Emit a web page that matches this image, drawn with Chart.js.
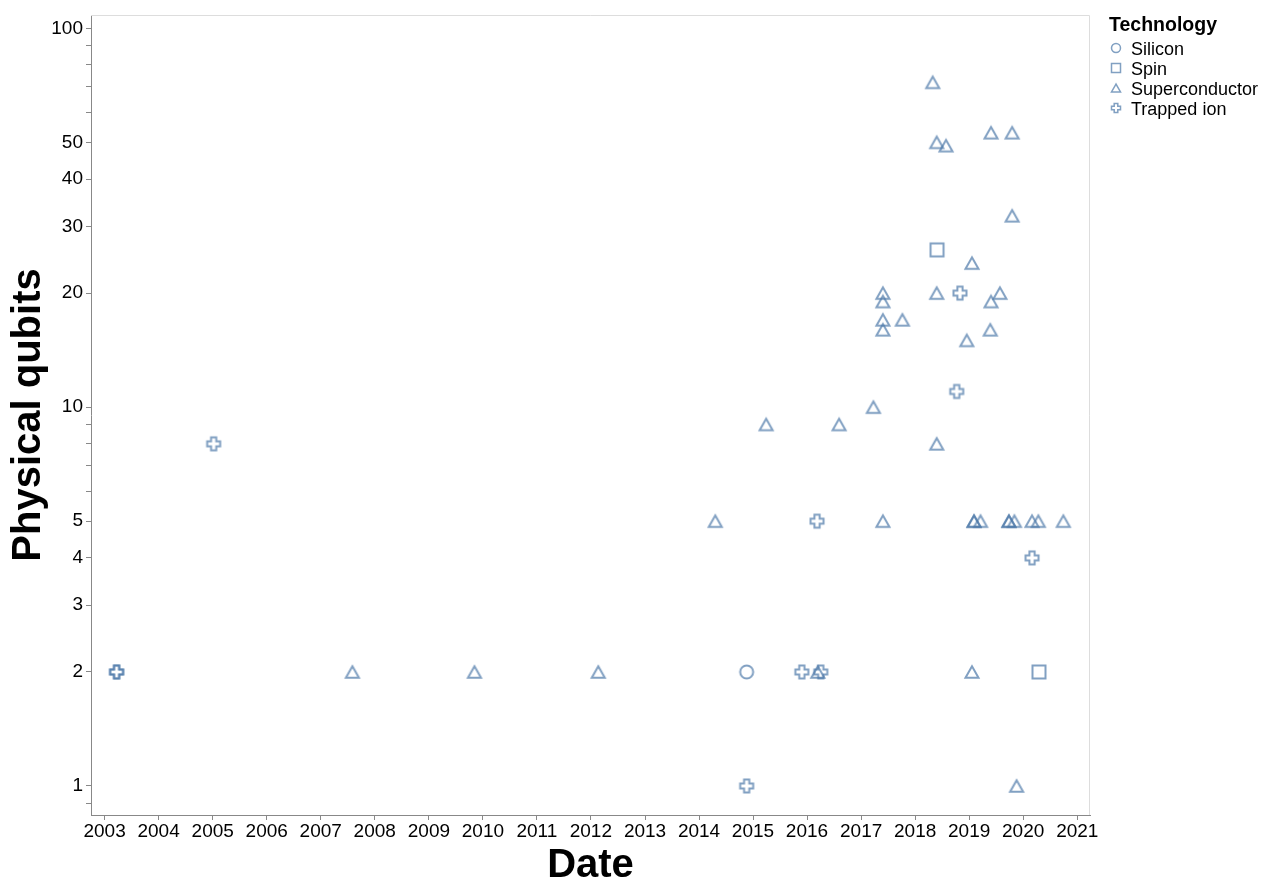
<!DOCTYPE html>
<html><head><meta charset="utf-8">
<script src="https://cdn.jsdelivr.net/npm/chart.js@4.4.1/dist/chart.umd.min.js"></script>
<style>
html,body{margin:0;padding:0;background:#fff;}
#wrap{position:relative;width:1263px;height:891px;overflow:hidden;}
#c{position:absolute;left:0;top:0;}
.lg{position:absolute;font-family:"Liberation Sans",Arial,sans-serif;color:#000;white-space:nowrap;}
.lg svg{position:absolute;}
</style></head><body>
<div id="wrap"><canvas id="c" width="1263" height="891"></canvas><div id="legend"></div></div>
<script>
// ---------------- data ----------------
const technologies = ['Silicon', 'Spin', 'Superconductor', 'Trapped ion'];

const siliconDates  = ['2014-11-19'];
const siliconQubits = [2];

const spinDates  = ['2018-05-29', '2020-04-17'];
const spinQubits = [26, 2];

const superconductorDates = [
  '2007-08-03', '2009-11-05', '2012-02-20', '2014-04-21', '2015-03-31', '2016-03-14',
  '2016-08-05', '2017-03-25', '2017-05-28', '2017-05-28', '2017-05-28', '2017-05-28',
  '2017-05-28', '2017-10-07', '2018-04-30', '2018-05-27', '2018-05-27', '2018-05-27',
  '2018-07-29', '2018-12-16', '2019-01-20', '2019-01-20', '2019-02-03', '2019-02-03',
  '2019-03-19', '2019-05-29', '2019-05-29', '2019-05-24', '2019-07-28', '2019-09-27',
  '2019-09-27', '2019-10-19', '2019-10-19', '2019-11-03', '2019-11-18', '2020-03-01',
  '2020-04-13', '2020-09-29'
];
const superconductorQubits = [
  2, 2, 2, 5, 9, 2,
  9, 10, 20, 19, 17, 16,
  5, 17, 72, 50, 20, 8,
  49, 15, 24, 2, 5, 5,
  5, 53, 19, 16, 20, 5,
  5, 53, 32, 5, 1, 5,
  5, 5
];

const trappedIonDates = [
  '2003-03-23', '2003-03-23', '2005-01-07', '2014-11-19', '2015-11-27',
  '2016-03-09', '2016-04-03', '2018-10-09', '2018-10-31', '2020-03-01'
];
const trappedIonQubits = [2, 2, 8, 1, 2, 5, 2, 11, 20, 4];

const xTickYears = [2003, 2004, 2005, 2006, 2007, 2008, 2009, 2010, 2011, 2012,
                    2013, 2014, 2015, 2016, 2017, 2018, 2019, 2020, 2021];
const yTickValues = [0.9, 1, 2, 3, 4, 5, 6, 7, 8, 9, 10, 20, 30, 40, 50, 60, 70, 80, 90, 100];
const yTickLabels = ['', '1', '2', '3', '4', '5', '', '', '', '', '10', '20', '30', '40', '50', '', '', '', '', '100'];

const xDomain = ['2002-10-01', '2021-03-28'];
const yDomain = [0.8384, 108.4];

// ---------------- helpers ----------------
const MARK = 'rgba(76,120,168,0.7)';
const FONT = '"Liberation Sans", Arial, sans-serif';

function tracePath(g, shape, size) {
  const r = Math.sqrt(size) / 2;
  g.beginPath();
  if (shape === 'circle') {
    g.arc(0, 0, r, 0, Math.PI * 2);
  } else if (shape === 'square') {
    g.rect(-r, -r, 2 * r, 2 * r);
  } else if (shape === 'triangle') {
    const h = Math.sqrt(3) * r / 2;
    g.moveTo(0, -h); g.lineTo(-r, h); g.lineTo(r, h); g.closePath();
  } else if (shape === 'cross') {
    const s = r / 2.5;
    g.moveTo(-r, -s); g.lineTo(-r, s); g.lineTo(-s, s); g.lineTo(-s, r);
    g.lineTo(s, r); g.lineTo(s, s); g.lineTo(r, s); g.lineTo(r, -s);
    g.lineTo(s, -s); g.lineTo(s, -r); g.lineTo(-s, -r); g.lineTo(-s, -s);
    g.closePath();
  }
}
function makeSymbol(shape, size, lw) {
  const c = document.createElement('canvas');
  c.width = 24; c.height = 24;
  const g = c.getContext('2d');
  g.translate(12, 12);
  tracePath(g, shape, size);
  g.strokeStyle = MARK; g.lineWidth = lw; g.lineJoin = 'miter';
  g.stroke();
  return c;
}
const toPoints = (dates, vals) => dates.map((d, i) => ({ x: Date.parse(d), y: vals[i] }));

const shapes = ['circle', 'square', 'triangle', 'cross'];
const seriesDates = [siliconDates, spinDates, superconductorDates, trappedIonDates];
const seriesVals = [siliconQubits, spinQubits, superconductorQubits, trappedIonQubits];

const datasets = technologies.map((t, k) => ({
  label: t,
  data: toPoints(seriesDates[k], seriesVals[k]),
  pointStyle: makeSymbol(shapes[k], 169, 2),
  pointRadius: 7,
  pointHoverRadius: 7,
  showLine: false,
  borderColor: MARK,
  backgroundColor: 'rgba(0,0,0,0)'
}));

// frame plugin (light view border on top/right)
const framePlugin = {
  id: 'frame',
  beforeDatasetsDraw(chart) {
    const { ctx, chartArea: a } = chart;
    ctx.save();
    ctx.strokeStyle = '#ddd';
    ctx.lineWidth = 1;
    ctx.beginPath();
    ctx.moveTo(a.left, a.top + 0.5); ctx.lineTo(a.right - 0.5, a.top + 0.5);
    ctx.lineTo(a.right - 0.5, a.bottom);
    ctx.stroke();
    ctx.restore();
  }
};

new Chart(document.getElementById('c'), {
  type: 'scatter',
  data: { datasets },
  options: {
    responsive: false,
    animation: false,
    events: [],
    layout: { padding: { left: 0, top: 15, right: 173, bottom: 0 } },
    plugins: { legend: { display: false }, tooltip: { enabled: false } },
    scales: {
      x: {
        type: 'linear',
        min: Date.parse(xDomain[0]),
        max: Date.parse(xDomain[1]),
        afterBuildTicks(scale) { scale.ticks = xTickYears.map(y => ({ value: Date.UTC(y, 0, 1) })); },
        afterFit(scale) { scale.height = 76; },
        ticks: {
          autoSkip: false, maxRotation: 0, minRotation: 0, padding: 2,
          color: '#000', font: { family: FONT, size: 19, lineHeight: 1 },
          callback(v, i) { return String(xTickYears[i]); }
        },
        grid: { drawOnChartArea: false, drawTicks: true, tickLength: 5, color: '#888', lineWidth: 1 },
        border: { display: true, color: '#888', width: 1 },
        title: {
          display: true, text: 'Date', color: '#000',
          font: { family: FONT, size: 40, weight: 'bold', lineHeight: 1 },
          padding: { top: 0, bottom: 5 }
        }
      },
      y: {
        type: 'logarithmic',
        min: yDomain[0],
        max: yDomain[1],
        afterBuildTicks(scale) { scale.ticks = yTickValues.map(v => ({ value: v })); },
        afterFit(scale) { scale.width = 91; },
        ticks: {
          autoSkip: false, padding: 3,
          color: '#000', font: { family: FONT, size: 19, lineHeight: 1 },
          callback(v, i) { return yTickLabels[i]; }
        },
        grid: { drawOnChartArea: false, drawTicks: true, tickLength: 5, color: '#888', lineWidth: 1 },
        border: { display: true, color: '#888', width: 1 },
        title: {
          display: true, text: 'Physical qubits', color: '#000',
          font: { family: FONT, size: 40, weight: 'bold', lineHeight: 1 },
          padding: { top: 8.5, bottom: 0 }
        }
      }
    }
  },
  plugins: [framePlugin]
});

// ---------------- legend (HTML) ----------------
(function () {
  const lg = document.getElementById('legend');
  const title = document.createElement('div');
  title.className = 'lg';
  title.style.cssText = 'left:1109px;top:12.5px;font-size:19.5px;line-height:22px;font-weight:bold;';
  title.textContent = 'Technology';
  lg.appendChild(title);
  technologies.forEach((t, k) => {
    const cy = 48.3 + 20 * k;
    const svgNS = 'http://www.w3.org/2000/svg';
    const svg = document.createElementNS(svgNS, 'svg');
    svg.setAttribute('width', '16'); svg.setAttribute('height', '16');
    svg.style.cssText = 'position:absolute;left:' + (1115.5 - 8) + 'px;top:' + (cy - 8) + 'px;';
    const r = 4.5;
    let el;
    if (shapes[k] === 'circle') {
      el = document.createElementNS(svgNS, 'circle');
      el.setAttribute('cx', 8); el.setAttribute('cy', 8); el.setAttribute('r', r);
    } else {
      el = document.createElementNS(svgNS, 'path');
      let d;
      if (shapes[k] === 'square') d = `M${8 - r},${8 - r}h${2 * r}v${2 * r}h${-2 * r}Z`;
      else if (shapes[k] === 'triangle') { const h = Math.sqrt(3) * r / 2; d = `M8,${8 - h}L${8 - r},${8 + h}L${8 + r},${8 + h}Z`; }
      else { const s = r / 2.5; d = `M${8 - r},${8 - s}V${8 + s}H${8 - s}V${8 + r}H${8 + s}V${8 + s}H${8 + r}V${8 - s}H${8 + s}V${8 - r}H${8 - s}V${8 - s}Z`; }
      el.setAttribute('d', d);
    }
    el.setAttribute('fill', 'none'); el.setAttribute('stroke', MARK); el.setAttribute('stroke-width', '1.5');
    svg.appendChild(el);
    lg.appendChild(svg);
    const lab = document.createElement('div');
    lab.className = 'lg';
    lab.style.cssText = 'left:1131px;top:' + (cy - 9.5) + 'px;font-size:18px;line-height:20px;';
    lab.textContent = t;
    lg.appendChild(lab);
  });
})();
</script>
</body></html>
